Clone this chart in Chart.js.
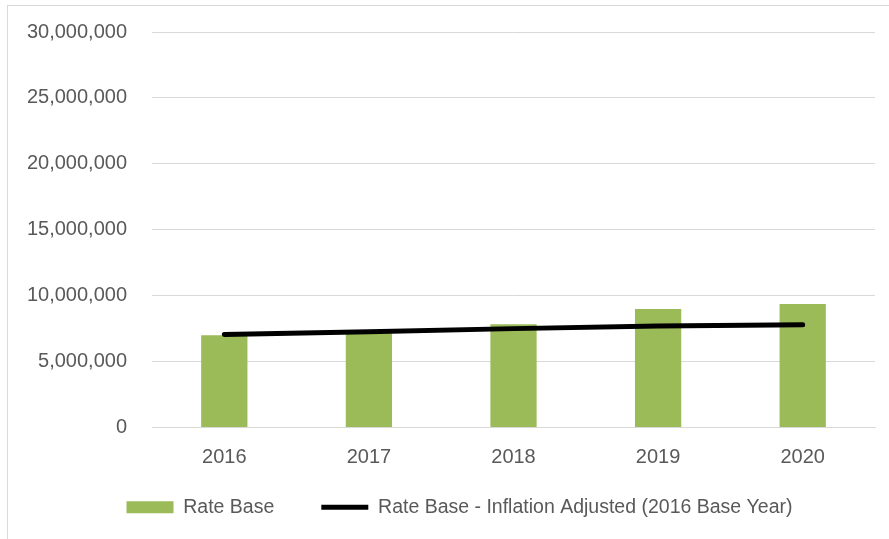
<!DOCTYPE html>
<html>
<head>
<meta charset="utf-8">
<script src="https://cdn.jsdelivr.net/npm/chart.js@4"></script>
<style>
    html, body { margin: 0; padding: 0; background: #fff; }
    #frame {
        position: absolute; left: 7px; top: 5px;
        width: 900px; height: 560px;
        border: 1px solid #d9d9d9;
    }
    #wrap { position: absolute; left: 0; top: 0; width: 889px; height: 539px; }
</style>
</head>
<body>
<div id="frame"></div>
<div id="wrap"><canvas id="rateChart"></canvas></div>
<script>
// Grafik verileri
const years = ['2016', '2017', '2018', '2019', '2020'];
const rateBase = [7000000, 7150000, 7840000, 8980000, 9360000];
const rateBaseAdjusted = [7050000, 7260000, 7500000, 7690000, 7790000];
const yTicks = [0, 5000000, 10000000, 15000000, 20000000, 25000000, 30000000];

const textColor = '#595959';
const gridColor = '#d9d9d9';
const fontFamily = '"Liberation Sans", Arial, sans-serif';

// x ekseni etiketleri kesilmesin, lejant biraz sağa kaysın
const layoutTweaks = {
    id: 'layoutTweaks',
    afterLayout(chart) {
        const x = chart.scales.x;
        x.bottom = x.top + 50;
        chart.legend.left += 22;
        chart.legend.right += 22;
    }
};

const ctx = document.getElementById('rateChart').getContext('2d');

new Chart(ctx, {
    data: {
        labels: years,
        datasets: [
            {
                type: 'line',
                label: 'Rate Base - Inflation Adjusted (2016 Base Year)',
                data: rateBaseAdjusted,
                borderColor: '#000000',
                backgroundColor: '#000000',
                borderWidth: 5,
                borderCapStyle: 'round',
                pointRadius: 0,
                pointStyle: 'line',
                tension: 0,
                order: 0
            },
            {
                type: 'bar',
                label: 'Rate Base',
                data: rateBase,
                backgroundColor: '#9bbb59',
                borderWidth: 0,
                pointStyle: 'rect',
                categoryPercentage: 1,
                barPercentage: 0.32,
                order: 1
            }
        ]
    },
    options: {
        responsive: true,
        maintainAspectRatio: false,
        animation: false,
        layout: { padding: { top: 32, right: 14, left: 0, bottom: 12 } },
        scales: {
            x: {
                afterFit: axis => { axis.height = 23; },
                grid: { display: false, drawTicks: false },
                border: { display: true, color: gridColor, width: 1 },
                ticks: { color: textColor, font: { family: fontFamily, size: 20 }, padding: 18 }
            },
            y: {
                min: 0,
                max: 30000000,
                afterBuildTicks: axis => { axis.ticks = yTicks.map(v => ({ value: v })); },
                afterFit: axis => {
                    axis.width = 152;
                    axis.paddingTop = 0;
                    axis.paddingBottom = 0;
                },
                grid: { color: gridColor, lineWidth: 1, drawTicks: false },
                border: { display: false },
                ticks: {
                    color: textColor,
                    font: { family: fontFamily, size: 20 },
                    padding: 25,
                    callback: v => v.toLocaleString('en-US')
                }
            }
        },
        plugins: {
            tooltip: { enabled: false },
            legend: {
                position: 'bottom',
                reverse: true,
                labels: {
                    color: textColor,
                    font: { family: fontFamily, size: 19.5 },
                    usePointStyle: true,
                    pointStyleWidth: 47,
                    boxHeight: 12,
                    padding: 47
                }
            }
        }
    },
    plugins: [layoutTweaks]
});
</script>
</body>
</html>
